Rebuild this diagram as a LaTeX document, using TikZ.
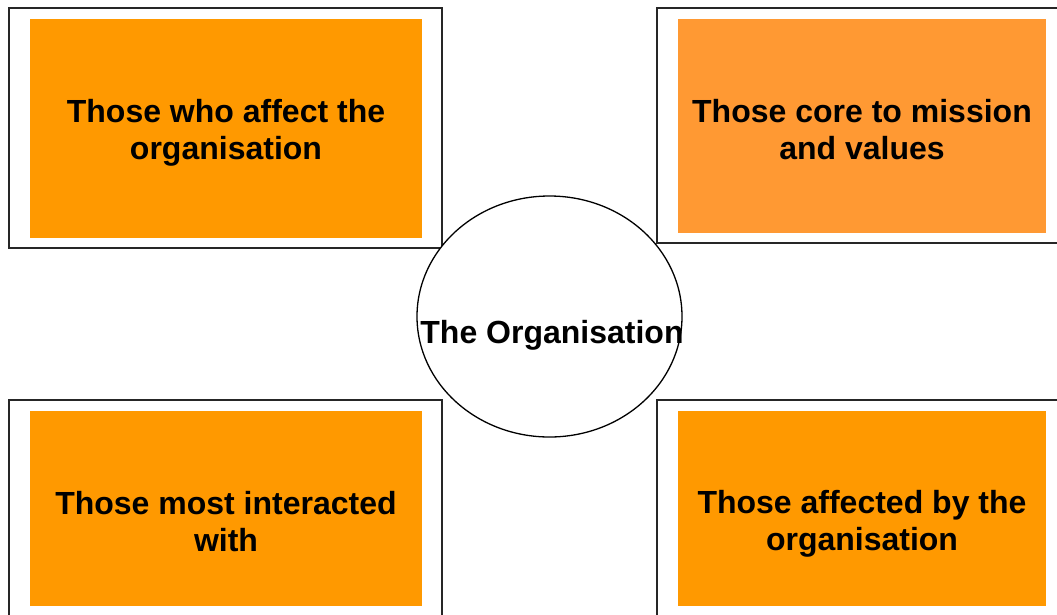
\documentclass[tikz,border=0pt]{standalone}
\usepackage{fontspec}
\setmainfont{Liberation Sans}
\usetikzlibrary{shapes.geometric}
\definecolor{groupfill}{HTML}{FF9900}
\definecolor{corefill}{HTML}{FF9933}
\begin{document}
\begin{tikzpicture}[x=1pt,y=-1pt,
  frame/.style={draw=black!85,line width=1.3pt,fill=white},
  panel/.style={inner sep=0pt,outer sep=0pt,align=center,
    font=\fontsize{32}{36.8}\selectfont\bfseries},
  hub/.style={ellipse,draw=black,line width=1.3pt,fill=white,
    minimum width=265pt,minimum height=241pt,inner sep=0pt}]
\clip (0,0) rectangle (1057,614);

% outer frames
\draw[frame] (9,8) rectangle (442,248);
\draw[frame] (657,8) rectangle (1070,243);
\draw[frame] (9,400) rectangle (442,630);
\draw[frame] (657,400) rectangle (1070,630);

% coloured panels
\fill[groupfill] (30,19) rectangle (422,238);
\fill[corefill] (678,19) rectangle (1046,233);
\fill[groupfill] (30,411) rectangle (422,606);
\fill[groupfill] (678,411) rectangle (1046,606);

\node[panel] (affect) at (226,132.5) {Those who affect the\\organisation};
\node[panel] (core) at (862,129.5) {Those core to mission\\and values};
\node[panel] (interact) at (226,521.5) {Those most interacted\\with};
\node[panel] (affected) at (862,524) {Those affected by the\\organisation};

% central organisation
\node[hub] (org) at (549.5,316.5) {};
\node[panel,anchor=base] (orgtext) at (552,343) {The Organisation};
\end{tikzpicture}
\end{document}
